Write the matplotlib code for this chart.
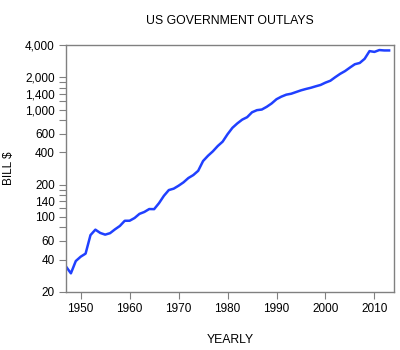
import matplotlib
matplotlib.use("Agg")
import matplotlib.pyplot as plt
from matplotlib.ticker import FixedLocator, FuncFormatter, NullLocator

# outlays in billions of dollars
years = list(range(1947, 2014))
outlays = [34.5, 29.8, 38.8, 42.6, 45.5, 67.7, 76.1, 70.9, 68.4, 70.6,
           76.6, 82.4, 92.1, 92.2, 97.7, 106.8, 111.3, 118.5, 118.2, 134.5,
           157.5, 178.1, 183.6, 195.6, 210.2, 230.7, 245.7, 269.4, 332.3, 371.8,
           409.2, 458.7, 504.0, 590.9, 678.2, 745.7, 808.4, 851.8, 946.3, 990.4,
           1004.0, 1064.4, 1143.7, 1253.0, 1324.2, 1381.5, 1409.4, 1461.8, 1515.7, 1560.5,
           1601.1, 1652.5, 1701.8, 1789.0, 1862.8, 2010.9, 2159.9, 2292.8, 2472.0, 2655.1,
           2728.7, 2982.5, 3520.0, 3460.0, 3600.0, 3570.0, 3570.0]

y_ticks = [20, 40, 60, 80, 100, 120, 140, 160, 180, 200,
           400, 600, 800, 1000, 1200, 1400, 1600, 1800, 2000, 4000]
y_labeled = [20, 40, 60, 100, 140, 200, 400, 600, 1000, 1400, 2000, 4000]
x_ticks = [1950, 1960, 1970, 1980, 1990, 2000, 2010]

plt.rcParams['font.family'] = ['Liberation Sans', 'DejaVu Sans']

fig = plt.figure(figsize=(4, 3.5), dpi=100)
ax = fig.add_axes([0.165, 0.166, 0.82, 0.705])

ax.plot(years, outlays, color='#2040ff', linewidth=1.8)

ax.set_yscale('log')
ax.set_ylim(20, 4000)
ax.set_xlim(1947, 2014)

ax.yaxis.set_major_locator(FixedLocator(y_ticks))
ax.yaxis.set_minor_locator(NullLocator())
ax.yaxis.set_major_formatter(FuncFormatter(
    lambda v, p: '{:,.0f}'.format(v) if round(v) in y_labeled else ''))
ax.set_xticks(x_ticks)

for s in ax.spines.values():
    s.set_color('#808080')
    s.set_linewidth(1.0)

ax.tick_params(direction='out', length=5, width=0.8, color='#808080',
               labelsize=8.5, pad=3)

ax.set_title('US GOVERNMENT OUTLAYS', fontsize=8.8, pad=15)
ax.set_ylabel('BILL $', fontsize=8.5, labelpad=7)
ax.set_xlabel('YEARLY', fontsize=8.8, labelpad=14)

fig.savefig('out.png', dpi=100)
